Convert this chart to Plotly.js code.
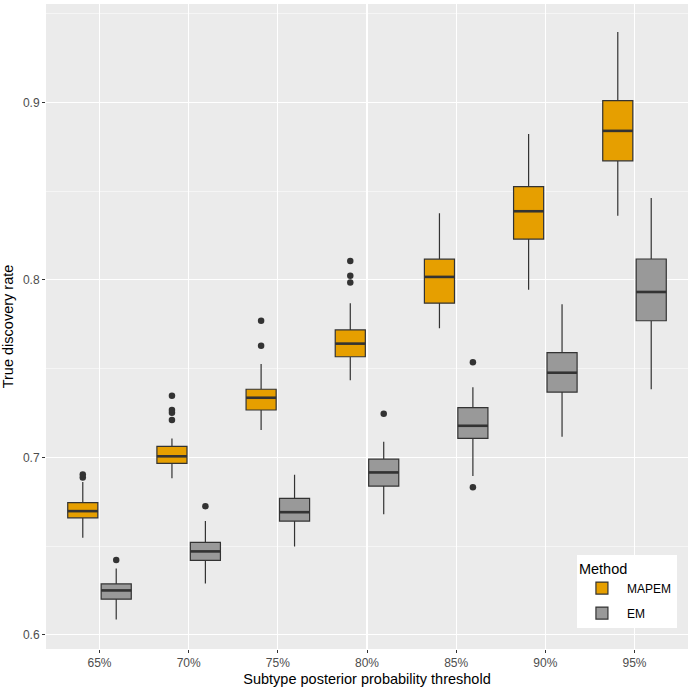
<!DOCTYPE html>
<html>
<head>
<meta charset="utf-8">
<script src="https://cdn.plot.ly/plotly-3.0.1.min.js"></script>
<style>
  html, body { margin: 0; padding: 0; background: #fff; }
  #chart { width: 690px; height: 690px; }
</style>
</head>
<body>
<div id="chart"></div>
<script>
const thresholds = ["65%", "70%", "75%", "80%", "85%", "90%", "95%"];

// MAPEM box statistics
const mapemLower  = [0.6547, 0.6882, 0.7154, 0.7434, 0.7728, 0.7944, 0.8361];
const mapemQ1     = [0.6659, 0.6966, 0.7267, 0.7567, 0.7869, 0.8230, 0.8671];
const mapemMedian = [0.6697, 0.7006, 0.7336, 0.7641, 0.8017, 0.8387, 0.8840];
const mapemQ3     = [0.6745, 0.7062, 0.7384, 0.7718, 0.8117, 0.8526, 0.9010];
const mapemUpper  = [0.6861, 0.7107, 0.7526, 0.7869, 0.8376, 0.8822, 0.9397];
const mapemOutliers = [[0.6887, 0.6904], [0.7210, 0.7252, 0.7267, 0.7347], [0.7629, 0.7770],
                       [0.7985, 0.8024, 0.8107], [], [], []];

// EM box statistics
const emLower  = [0.6086, 0.6289, 0.6498, 0.6679, 0.6895, 0.7116, 0.7384];
const emQ1     = [0.6201, 0.6419, 0.6641, 0.6838, 0.7107, 0.7368, 0.7770];
const emMedian = [0.6250, 0.6470, 0.6691, 0.6915, 0.7178, 0.7477, 0.7932];
const emQ3     = [0.6287, 0.6521, 0.6769, 0.6990, 0.7280, 0.7590, 0.8118];
const emUpper  = [0.6374, 0.6641, 0.6902, 0.7088, 0.7395, 0.7863, 0.8461];
const emOutliers = [[0.6422], [0.6725], [], [0.7246], [0.6832, 0.7536], [], []];

const dodge = 0.1875;
const boxWidth = 0.3375;
const edge = '#333333';
const font = 'Liberation Sans, Arial, sans-serif';

const pos = thresholds.map((t, i) => i + 1);
const mapemX = pos.map(p => p - dodge);
const emX = pos.map(p => p + dodge);

function boxTrace(name, xs, lo, q1, med, q3, hi, fill) {
  return {
    type: 'box', name: name, orientation: 'v', legendgroup: name,
    x: xs, q1: q1, median: med, q3: q3, lowerfence: lo, upperfence: hi,
    width: boxWidth, whiskerwidth: 0, boxpoints: false,
    fillcolor: fill, line: {color: edge, width: 1.2},
    hoverinfo: 'skip'
  };
}

function medianTrace(xs, med) {
  const x = [], y = [];
  xs.forEach((c, i) => {
    x.push(c - boxWidth / 2, c + boxWidth / 2, null);
    y.push(med[i], med[i], null);
  });
  return {type: 'scatter', mode: 'lines', x: x, y: y, showlegend: false,
          line: {color: edge, width: 2.6}, hoverinfo: 'skip'};
}

function outlierTrace(xs, outs) {
  const x = [], y = [];
  outs.forEach((list, i) => list.forEach(v => { x.push(xs[i]); y.push(v); }));
  return {type: 'scatter', mode: 'markers', x: x, y: y, showlegend: false,
          marker: {color: edge, size: 6.5}, hoverinfo: 'skip'};
}

const data = [
  boxTrace('MAPEM', mapemX, mapemLower, mapemQ1, mapemMedian, mapemQ3, mapemUpper, '#E69F00'),
  boxTrace('EM', emX, emLower, emQ1, emMedian, emQ3, emUpper, '#999999'),
  medianTrace(mapemX, mapemMedian),
  medianTrace(emX, emMedian),
  outlierTrace(mapemX, mapemOutliers),
  outlierTrace(emX, emOutliers)
];

const layout = {
  width: 690, height: 690,
  margin: {l: 46, r: 2, t: 4, b: 41},
  paper_bgcolor: '#ffffff',
  plot_bgcolor: '#EBEBEB',
  font: {family: font, size: 12, color: '#000000'},
  showlegend: true,
  boxmode: 'overlay',
  xaxis: {
    range: [0.4, 7.6],
    tickvals: pos, ticktext: thresholds,
    showgrid: true, gridcolor: '#ffffff', gridwidth: 1.1,
    zeroline: false, showline: false,
    ticks: 'outside', ticklen: 3, tickcolor: edge, tickwidth: 1,
    tickfont: {family: font, size: 12, color: '#4D4D4D'},
    title: {text: 'Subtype posterior probability threshold', standoff: 4,
            font: {family: font, size: 14.5, color: '#000000'}}
  },
  yaxis: {
    range: [0.592, 0.9555],
    tickvals: [0.6, 0.7, 0.8, 0.9], ticktext: ['0.6', '0.7', '0.8', '0.9'],
    showgrid: true, gridcolor: '#ffffff', gridwidth: 1.1,
    minor: {tickvals: [0.65, 0.75, 0.85, 0.95], showgrid: true, gridcolor: '#ffffff', gridwidth: 0.5, ticks: ''},
    zeroline: false, showline: false,
    ticks: 'outside', ticklen: 3, tickcolor: edge, tickwidth: 1,
    tickfont: {family: font, size: 12, color: '#4D4D4D'},
    title: {text: 'True discovery rate', standoff: 6,
            font: {family: font, size: 14.5, color: '#000000'}}
  },
  legend: {
    x: 0.827, y: 0.033, xanchor: 'left', yanchor: 'bottom',
    bgcolor: '#ffffff', borderwidth: 0,
    font: {family: font, size: 12, color: '#000000'},
    title: {text: 'Method', font: {family: font, size: 14.5, color: '#000000'}},
    tracegroupgap: 6,
    itemwidth: 40
  }
};

Plotly.newPlot('chart', data, layout, {displayModeBar: false, staticPlot: true});
</script>
</body>
</html>
